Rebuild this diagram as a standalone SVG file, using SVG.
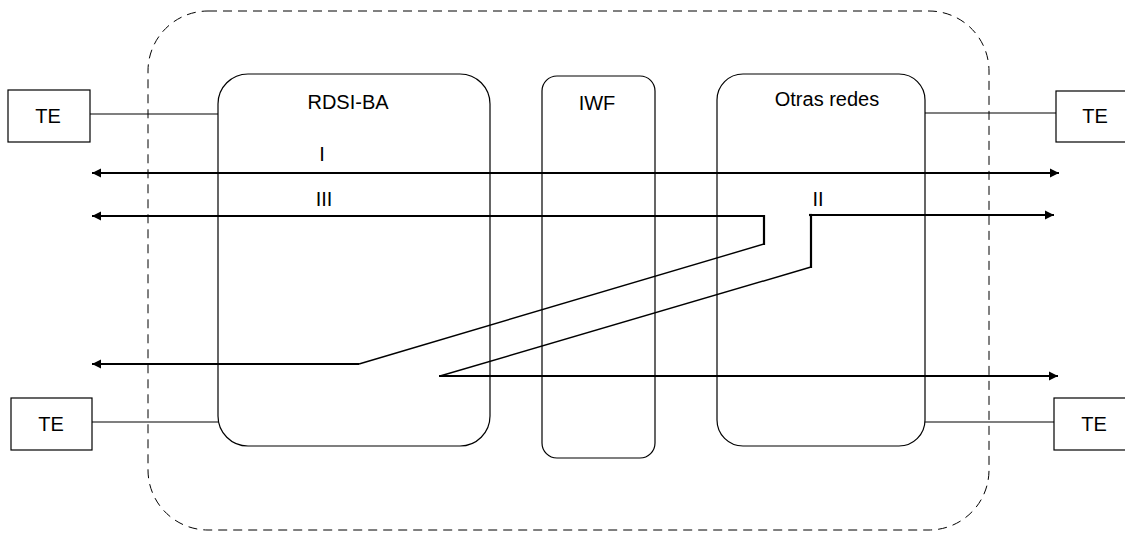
<svg xmlns="http://www.w3.org/2000/svg" width="1125" height="536" viewBox="0 0 1125 536">
  <style>
    .box { fill: #fff; stroke: #000; stroke-width: 1.2; }
    .net { fill: none; stroke: #000; stroke-width: 1.2; }
    .link { fill: none; stroke: #000; stroke-width: 1.2; }
    .flow { fill: none; stroke: #000; stroke-width: 2.2; }
    .slant { fill: none; stroke: #000; stroke-width: 1.4; }
    .lbl { font-family: "Liberation Sans", Arial, sans-serif; font-size: 20px; fill: #000; text-anchor: middle; }
  </style>
  <defs>
    <marker id="ah" viewBox="0 0 10 10" refX="10" refY="5" markerWidth="9" markerHeight="10" markerUnits="userSpaceOnUse" orient="auto-start-reverse">
      <path d="M0,0 L10,5 L0,10 Z" fill="#000"/>
    </marker>
  </defs>

  <rect width="1125" height="536" fill="#fff"/>

  <!-- Overall boundary -->
  <rect x="148" y="11" width="841" height="519" rx="60" ry="60" fill="none" stroke="#000" stroke-width="1" stroke-dasharray="9,6"/>

  <!-- Attachment lines from terminals -->
  <g id="attachments">
    <line class="link" x1="90" y1="114" x2="218" y2="114"/>
    <line class="link" x1="92" y1="422" x2="218" y2="422"/>
    <line class="link" x1="925" y1="113" x2="1056" y2="113"/>
    <line class="link" x1="925" y1="422" x2="1054" y2="422"/>
  </g>

  <!-- Networks -->
  <g id="rdsi-ba">
    <rect class="net" x="218" y="74" width="272" height="372" rx="30" ry="30"/>
    <text class="lbl" x="348" y="109">RDSI-BA</text>
  </g>
  <g id="iwf">
    <rect class="net" x="542" y="76" width="113" height="382" rx="15" ry="15"/>
    <text class="lbl" x="597" y="110">IWF</text>
  </g>
  <g id="otras-redes">
    <rect class="net" x="717" y="74" width="208" height="372" rx="26" ry="26"/>
    <text class="lbl" x="827" y="106">Otras redes</text>
  </g>

  <!-- Terminals -->
  <g id="te-top-left">
    <rect class="box" x="8" y="90" width="82" height="52"/>
    <text class="lbl" x="48" y="123">TE</text>
  </g>
  <g id="te-bottom-left">
    <rect class="box" x="11" y="398" width="81" height="52"/>
    <text class="lbl" x="51" y="431">TE</text>
  </g>
  <g id="te-top-right">
    <rect class="box" x="1056" y="91" width="82" height="51"/>
    <text class="lbl" x="1095" y="123">TE</text>
  </g>
  <g id="te-bottom-right">
    <rect class="box" x="1054" y="398" width="82" height="52"/>
    <text class="lbl" x="1094" y="431">TE</text>
  </g>

  <!-- Connection paths -->
  <g id="connectors">
    <!-- I -->
    <line class="flow" x1="92" y1="173" x2="1059" y2="173" marker-start="url(#ah)" marker-end="url(#ah)"/>
    <!-- III -->
    <path class="flow" d="M764,245 L764,216 L92,216" marker-end="url(#ah)"/>
    <line class="slant" x1="764" y1="244" x2="359" y2="364"/>
    <line class="flow" x1="359" y1="364" x2="92" y2="364" marker-end="url(#ah)"/>
    <!-- II -->
    <path class="flow" d="M811,268 L811,215 L1054,215" marker-end="url(#ah)"/>
    <line class="flow" x1="809" y1="215" x2="812" y2="215"/>
    <line class="slant" x1="811" y1="267" x2="440" y2="376"/>
    <line class="flow" x1="439" y1="376" x2="1058" y2="376" marker-end="url(#ah)"/>
  </g>

  <g id="path-labels">
    <text class="lbl" x="322" y="161">I</text>
    <text class="lbl" x="324" y="206">III</text>
    <text class="lbl" x="818" y="206">II</text>
  </g>
</svg>
